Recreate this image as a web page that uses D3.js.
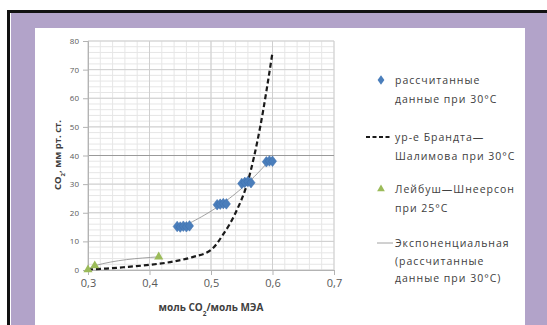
<!DOCTYPE html>
<html>
<head>
<meta charset="utf-8">
<script src="https://cdn.jsdelivr.net/npm/d3@7"></script>
<style>
  body { margin: 0; background: #fff; }
  text { font-family: "Open Sans", "DejaVu Sans", sans-serif; }
</style>
</head>
<body>
<svg id="chart" width="547" height="325"></svg>
<script>
// values
const xTicks = [0.3, 0.4, 0.5, 0.6, 0.7];
const yTicks = [0, 10, 20, 30, 40, 50, 60, 70, 80];

// рассчитанные данные при 30°C
const calcX = [0.445, 0.45, 0.455, 0.46, 0.465, 0.51, 0.515, 0.52, 0.525, 0.55, 0.555, 0.56, 0.565, 0.59, 0.595, 0.6];
const calcY = [15.2, 15.0, 15.3, 15.1, 15.4, 22.8, 23.0, 23.2, 23.1, 30.2, 30.6, 30.9, 30.5, 37.8, 38.1, 38.0];

// ур-е Брандта–Шалимова при 30°C
const brandtX = [0.3, 0.33, 0.36, 0.4, 0.44, 0.47, 0.5, 0.52, 0.54, 0.56, 0.58, 0.6];
const brandtY = [0.2, 0.5, 1.0, 1.8, 3.0, 4.5, 7.0, 12.5, 20, 31, 50, 76];

// Лейбуш–Шнеерсон при 25°C
const leibX = [0.3, 0.311, 0.415];
const leibY = [0.1, 1.5, 4.6];

const legendLabels = [
  ["рассчитанные", "данные при 30°C"],
  ["ур-е Брандта—", "Шалимова при 30°C"],
  ["Лейбуш—Шнеерсон", "при 25°C"],
  ["Экспоненциальная", "(рассчитанные", "данные при 30°C)"]
];

const svg = d3.select("#chart");

// frame
svg.append("rect").attr("x", 11).attr("y", 13).attr("width", 536).attr("height", 312).attr("fill", "#b2a3c9");
svg.append("rect").attr("x", 35).attr("y", 28).attr("width", 490).attr("height", 297).attr("fill", "#fff");
svg.append("rect").attr("x", 7).attr("y", 10).attr("width", 3).attr("height", 315).attr("fill", "#111");
svg.append("rect").attr("x", 7).attr("y", 10).attr("width", 540).attr("height", 3).attr("fill", "#111");

const x = d3.scaleLinear().domain([0.3, 0.7]).range([88, 334]);
const y = d3.scaleLinear().domain([0, 80]).range([270, 41]);

// grid
const grid = svg.append("g");
d3.range(0.3, 0.7001, 0.02).forEach(v => {
  grid.append("line").attr("x1", x(v)).attr("x2", x(v)).attr("y1", y(0)).attr("y2", y(80))
    .attr("stroke", "#e6e6e6").attr("stroke-width", 1);
});
d3.range(0, 80.01, 2).forEach(v => {
  grid.append("line").attr("x1", x(0.3)).attr("x2", x(0.7)).attr("y1", y(v)).attr("y2", y(v))
    .attr("stroke", "#e6e6e6").attr("stroke-width", 1);
});
xTicks.forEach(v => {
  grid.append("line").attr("x1", x(v)).attr("x2", x(v)).attr("y1", y(0)).attr("y2", y(80))
    .attr("stroke", "#cfcfcf");
});
yTicks.forEach(v => {
  grid.append("line").attr("x1", x(0.3)).attr("x2", x(0.7)).attr("y1", y(v)).attr("y2", y(v))
    .attr("stroke", v === 40 ? "#9a9a9a" : "#cfcfcf");
});

// axes
const xAxis = svg.append("g").attr("transform", `translate(0,${y(0)})`)
  .call(d3.axisBottom(x).tickValues(xTicks).tickSize(5).tickPadding(4)
    .tickFormat(d => d3.format(".1f")(d).replace(".", ",")));
xAxis.select(".domain").attr("stroke", "#b3b3b3");
xAxis.selectAll(".tick line").attr("stroke", "#b3b3b3");
xAxis.selectAll("text").attr("fill", "#595959").style("font-size", "11px");

const yAxis = svg.append("g").attr("transform", `translate(${x(0.3)},0)`)
  .call(d3.axisLeft(y).tickValues(yTicks).tickSize(5).tickPadding(4));
yAxis.select(".domain").attr("stroke", "#b3b3b3");
yAxis.selectAll(".tick line").attr("stroke", "#b3b3b3");
yAxis.selectAll("text").attr("fill", "#595959").style("font-size", "8px");

// axis titles
const yt = svg.append("text").attr("transform", "translate(61,155) rotate(-90)")
  .attr("text-anchor", "middle").attr("fill", "#404040")
  .style("font-size", "9.5px").style("font-weight", "bold");
yt.append("tspan").text("CO");
yt.append("tspan").attr("baseline-shift", "sub").style("font-size", "6px").text("2");
yt.append("tspan").text(", мм рт. ст.");

const xt = svg.append("text").attr("x", 211).attr("y", 311)
  .attr("text-anchor", "middle").attr("fill", "#404040")
  .style("font-size", "10px").style("font-weight", "bold");
xt.append("tspan").text("моль CO");
xt.append("tspan").attr("baseline-shift", "sub").style("font-size", "6.5px").text("2");
xt.append("tspan").text("/моль МЭА");

// Лейбуш line
const leibPts = leibX.map((v, i) => [v, leibY[i]]);
svg.append("path").datum(leibPts)
  .attr("d", d3.line().x(d => x(d[0])).y(d => y(d[1])).curve(d3.curveMonotoneX))
  .attr("fill", "none").attr("stroke", "#8c8c8c").attr("stroke-width", 0.8);

// exponential trendline, least squares on ln(y)
const ly = calcY.map(Math.log);
const mx = d3.mean(calcX), my = d3.mean(ly);
const b = d3.sum(calcX.map((v, i) => (v - mx) * (ly[i] - my))) / d3.sum(calcX.map(v => (v - mx) ** 2));
const a = Math.exp(my - b * mx);
const trend = d3.range(d3.min(calcX), d3.max(calcX) + 0.0001, 0.005).map(v => [v, a * Math.exp(b * v)]);
svg.append("path").datum(trend)
  .attr("d", d3.line().x(d => x(d[0])).y(d => y(d[1])))
  .attr("fill", "none").attr("stroke", "#8c8c8c").attr("stroke-width", 0.8);

// Brandt dashed line
const brandtPts = brandtX.map((v, i) => [v, brandtY[i]]);
svg.append("path").datum(brandtPts)
  .attr("d", d3.line().x(d => x(d[0])).y(d => y(d[1])).curve(d3.curveMonotoneX))
  .attr("fill", "none").attr("stroke", "#1a1a1a").attr("stroke-width", 2.2)
  .attr("stroke-dasharray", "5,3");

// markers
const diamond = d3.symbol().type(d3.symbolDiamond).size(40);
const tri = d3.symbol().type(d3.symbolTriangle).size(36);

svg.append("g").selectAll("path").data(calcX.map((v, i) => [v, calcY[i]])).join("path")
  .attr("d", diamond).attr("transform", d => `translate(${x(d[0])},${y(d[1])}) scale(1.2,0.9)`)
  .attr("fill", "#4a7ebb").attr("stroke", "#3d6fae").attr("stroke-width", 0.5);

svg.append("g").selectAll("path").data(leibPts).join("path")
  .attr("d", tri).attr("transform", d => `translate(${x(d[0])},${y(d[1])})`)
  .attr("fill", "#9bbb59");

// legend
const lg = svg.append("g");
const rowY = [80, 137, 189, 243];
lg.append("path").attr("d", diamond).attr("transform", `translate(381,${rowY[0]}) scale(1,0.8)`).attr("fill", "#4a7ebb");
lg.append("line").attr("x1", 366).attr("x2", 392).attr("y1", rowY[1]).attr("y2", rowY[1])
  .attr("stroke", "#1a1a1a").attr("stroke-width", 2).attr("stroke-dasharray", "4,2.5");
lg.append("path").attr("d", d3.symbol().type(d3.symbolTriangle).size(26)).attr("transform", `translate(381,${rowY[2]})`).attr("fill", "#9bbb59");
lg.append("line").attr("x1", 377).attr("x2", 393).attr("y1", rowY[3]).attr("y2", rowY[3])
  .attr("stroke", "#8c8c8c").attr("stroke-width", 0.8);

legendLabels.forEach((lines, i) => {
  const t = lg.append("text").attr("x", 395).attr("y", rowY[i] + 4)
    .attr("fill", "#404040").style("font-size", "10.5px").style("letter-spacing", "1px");
  lines.forEach((s, j) => {
    t.append("tspan").attr("x", 395).attr("dy", j === 0 ? 0 : (i === 3 ? 17.5 : 18.5)).text(s);
  });
});
</script>
</body>
</html>
